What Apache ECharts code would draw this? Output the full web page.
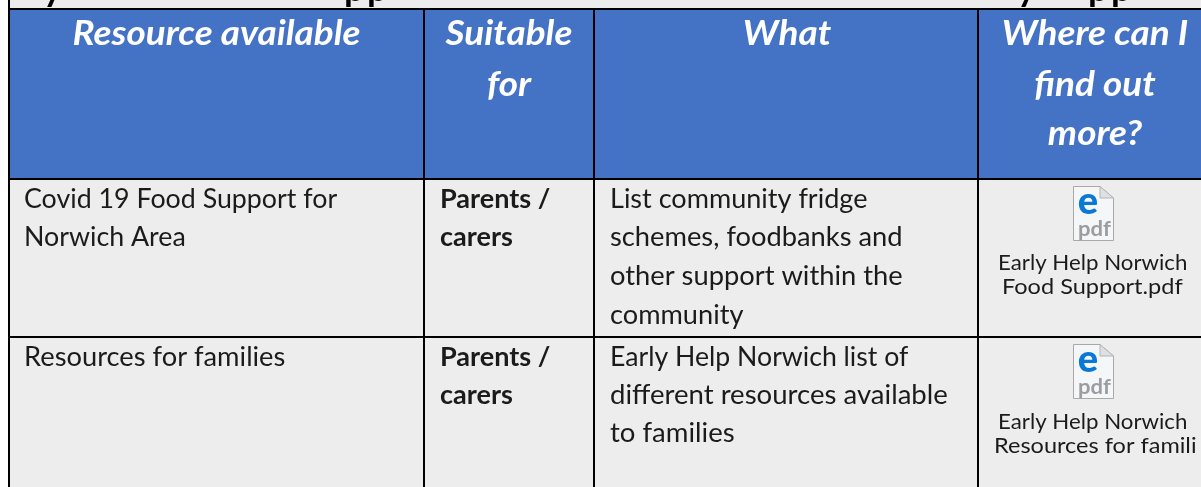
<!DOCTYPE html>
<html>
<head>
<meta charset="utf-8">
<style>
  html, body { margin: 0; padding: 0; background: #fff; }
  #chart { width: 1201px; height: 487px; }
</style>
<script src="https://cdn.jsdelivr.net/npm/echarts@6/dist/echarts.min.js"></script>
</head>
<body>
<div id="chart"></div>
<script>
// table text
const headers = [
  ["Resource available"],
  ["Suitable", "for"],
  ["What"],
  ["Where can I", "find out", "more?"],
];
const resources = [
  ["Covid 19 Food Support for", "Norwich Area"],
  ["Resources for families"],
];
const suitableFor = [
  ["Parents /", "carers"],
  ["Parents /", "carers"],
];
const whatText = [
  ["List community fridge", "schemes, foodbanks and", "other support within the", "community"],
  ["Early Help Norwich list of", "different resources available", "to families"],
];
const fileNames = [
  ["Early Help Norwich", "Food Support.pdf"],
  ["Early Help Norwich", "Resources for families"],
];
// bottoms of the title letters cut off by the top of the picture
const titleLetters = ["y", "p", "p", "y", "p", "p"];

// layout
const colEdges = [9, 424, 594, 978, 1210];
const rowEdges = [9, 179, 337, 500];
const titleX = [43, 344, 367, 1017, 1088, 1111];
const headerLineY = [34, 85, 134];
const headerCenter = [216.5, 509, 787, 1095];
const bodyPad = [15, 16, 16];
// horizontal stretch of each body line, the source font runs wider than Lato
const bodyStretch = [
  [[1.03, 1.03], [1.05]],
  [[1.04, 1.04], [1.04, 1.04]],
  [[1.04, 1.05, 1.05, 1.045], [1.025, 1.06, 1.06]],
];
const rowLineY = [[200, 238, 277, 316], [358, 396, 434, 473]];
const iconTop = [186, 344];
const fileLineY = [[263, 287], [422, 446]];
const fileLineX = [[998, 1002], [998, 994]];
const fileStretch = [[1.06, 1.12], [1.06, 1.12]];

const FONT = "Lato";
const chart = echarts.init(document.getElementById("chart"));

function textEl(api, x, y, str, o) {
  const p = api.coord([x, y]);
  return {
    type: "text",
    x: p[0],
    y: p[1],
    scaleX: o.scaleX || 1,
    style: {
      text: str,
      fontFamily: FONT,
      fontSize: o.size,
      fontWeight: o.weight || "normal",
      fontStyle: o.italic ? "italic" : "normal",
      fill: o.fill || "#1b1b1b",
      align: o.align || "left",
      verticalAlign: "middle",
    },
    z2: 5,
  };
}

function rectEl(api, x0, y0, x1, y1, fill, z2) {
  const a = api.coord([x0, y0]);
  const b = api.coord([x1, y1]);
  return {
    type: "rect",
    shape: { x: a[0], y: a[1], width: b[0] - a[0], height: b[1] - a[1] },
    style: { fill: fill },
    z2: z2 || 1,
  };
}

function lineEl(api, x0, y0, x1, y1) {
  const a = api.coord([x0, y0]);
  const b = api.coord([x1, y1]);
  return {
    type: "line",
    shape: { x1: a[0], y1: a[1], x2: b[0], y2: b[1] },
    style: { stroke: "#000", lineWidth: 2 },
    z2: 3,
  };
}

// the embedded pdf icon
function iconEl(api, top) {
  const left = 1073.5, right = 1113.5, fold = 1100, bottom = top + 54.5;
  const pts = [[left, top + 0.5], [fold, top + 0.5], [right, top + 12], [right, bottom], [left, bottom]];
  const foldPts = [[fold, top + 0.5], [fold, top + 12], [right, top + 12]];
  return [
    {
      type: "polygon",
      shape: { points: pts.map((q) => api.coord(q)) },
      style: { fill: "#f5f6f8", stroke: "#a9a9a9", lineWidth: 1 },
      z2: 4,
    },
    {
      type: "polygon",
      shape: { points: foldPts.map((q) => api.coord(q)) },
      style: { fill: "#dfe0e2", stroke: "#b5b5b5", lineWidth: 1 },
      z2: 4,
    },
    textEl(api, 1088, top + 16, "e", { size: 38, weight: 900, fill: "#0a78d7", align: "center" }),
    textEl(api, 1078, top + 43, "pdf", { size: 21, weight: "bold", fill: "#9a9ea1", scaleX: 1.05 }),
  ];
}

function renderTable(params, api) {
  const kids = [];
  const right = colEdges[colEdges.length - 1];

  // page behind the title and cells
  kids.push(rectEl(api, colEdges[0], -5, right, rowEdges[0], "#ececec"));
  kids.push(rectEl(api, colEdges[0], rowEdges[0], right, rowEdges[1], "#4472c4"));
  kids.push(rectEl(api, colEdges[0], rowEdges[1], right, rowEdges[3], "#ededed"));

  // grid lines
  rowEdges.slice(0, 3).forEach((y) => kids.push(lineEl(api, colEdges[0] - 1, y, right, y)));
  colEdges.slice(0, 4).forEach((x, i) => {
    kids.push(lineEl(api, x, i === 0 ? -5 : rowEdges[0], x, rowEdges[3]));
  });

  // title descenders only, the rest of the line is above the picture
  titleLetters.forEach((ch, i) => {
    kids.push(textEl(api, titleX[i], -11, ch, { size: 36, weight: "bold", fill: "#000" }));
  });

  // header
  headers.forEach((lines, c) => {
    lines.forEach((str, i) => {
      kids.push(textEl(api, headerCenter[c], headerLineY[i], str, {
        size: 35, weight: "bold", italic: true, fill: "#fff", align: "center", scaleX: 1.055,
      }));
    });
  });

  // body rows
  [resources, suitableFor, whatText].forEach((col, c) => {
    col.forEach((rowLines, r) => {
      rowLines.forEach((str, i) => {
        kids.push(textEl(api, colEdges[c] + bodyPad[c], rowLineY[r][i], str, {
          size: 26, weight: c === 1 ? "bold" : "normal", scaleX: bodyStretch[c][r][i],
        }));
      });
    });
  });

  // pdf attachments
  fileNames.forEach((lines, r) => {
    kids.push(...iconEl(api, iconTop[r]));
    lines.forEach((str, i) => {
      kids.push(textEl(api, fileLineX[r][i], fileLineY[r][i], str, { size: 21, scaleX: fileStretch[r][i] }));
    });
  });
  // the long file name is cut by the object frame
  kids.push(rectEl(api, 1196, 434, 1201, 460, "#ededed", 6));

  return { type: "group", children: kids };
}

chart.setOption({
  animation: false,
  backgroundColor: "#ffffff",
  grid: { left: 0, right: 0, top: 0, bottom: 0 },
  xAxis: { type: "value", min: 0, max: 1201, show: false },
  yAxis: { type: "value", min: 0, max: 487, inverse: true, show: false },
  series: [{
    type: "custom",
    coordinateSystem: "cartesian2d",
    clip: true,
    silent: true,
    data: [[0, 0]],
    renderItem: renderTable,
  }],
});
</script>
</body>
</html>
